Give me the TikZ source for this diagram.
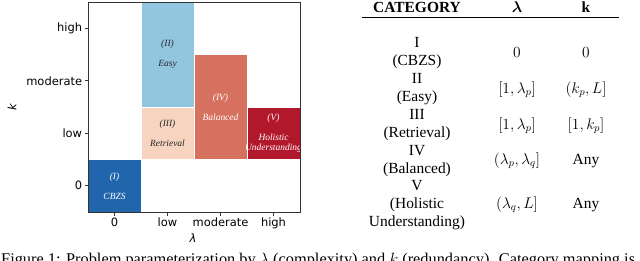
\RequirePackage{fix-cm}
\documentclass[tikz,border=0pt]{standalone}
\usepackage{amsmath, amssymb}
\usepackage{fontspec}
\setmainfont{Liberation Serif}
\newfontfamily\plotfont{DejaVu Sans}
\usepackage{xcolor}
\definecolor{easyblue}{HTML}{92C5DE}
\definecolor{retrpeach}{HTML}{F7D4C0}
\definecolor{balred}{HTML}{D6705F}
\definecolor{holred}{HTML}{B2182B}
\definecolor{cbzsblue}{HTML}{2166AC}
\definecolor{spinegray}{HTML}{333333}

\begin{document}
\begin{tikzpicture}[x=1bp,y=-1bp,
  spine/.style={draw=spinegray,line width=0.8bp},
  ticklabel/.style={font=\plotfont\fontsize{11.5}{13}\selectfont,inner sep=2bp},
  boxlabel/.style={font=\fontsize{9.5}{10}\selectfont\itshape,align=center,inner sep=0pt},
  tabtext/.style={font=\fontsize{15.5}{18}\selectfont,align=center,inner sep=0pt}]
  \useasboundingbox (0,0) rectangle (640,260);
  \clip (0,0) rectangle (640,260);
  % category regions
  \fill[cbzsblue,draw=white,line width=0.5bp](88,159.5) rectangle (141,212);
  \fill[easyblue,draw=white,line width=0.5bp](141,2) rectangle (194,107);
  \fill[retrpeach,draw=white,line width=0.5bp](141,107) rectangle (194,159.5);
  \fill[balred,draw=white,line width=0.5bp](194,54.5) rectangle (247,159.5);
  \fill[holred,draw=white,line width=0.5bp](247,107) rectangle (300,159.5);
  \node[boxlabel,text=white] (lblI) at(114.5,186){(I)\\[10bp]CBZS};
  \node[boxlabel,text=black!85] (lblII) at(167.5,54.5){(II)\\[10bp]Easy};
  \node[boxlabel,text=black!85] (lblIII) at(167.5,133.5){(III)\\[10bp]Retrieval};
  \node[boxlabel,text=white] (lblIV) at(220.5,107){(IV)\\[10bp]Balanced};
  \node[boxlabel,text=white] (lblV) at(273.5,133.5){(V)\\[10bp]Holistic\\Understanding};
  \draw[spine](88,2) rectangle (300,212);
  % ticks
  \draw[spine](114.5,212)--(114.5,215.5) node[below,ticklabel] (xt0){0};
  \draw[spine](167.5,212)--(167.5,215.5) node[below,ticklabel] (xtlow){low};
  \draw[spine](220.5,212)--(220.5,215.5) node[below,ticklabel] (xtmod){moderate};
  \draw[spine](273.5,212)--(273.5,215.5) node[below,ticklabel] (xthigh){high};
  \draw[spine](88,185.75)--(84.5,185.75) node[left,ticklabel] (yt0){0};
  \draw[spine](88,133.25)--(84.5,133.25) node[left,ticklabel] (ytlow){low};
  \draw[spine](88,80.75)--(84.5,80.75) node[left,ticklabel] (ytmod){moderate};
  \draw[spine](88,28.25)--(84.5,28.25) node[left,ticklabel] (ythigh){high};
  \node[ticklabel,rotate=90] (klabel) at(12,107){\itshape k};
  \node[ticklabel] (lamlabel) at(193,238){\itshape λ};
  % table
  \node[tabtext] (hcat) at(417,7){\textbf{CATEGORY}};
  \node[tabtext] (hlam) at(517,7){$\boldsymbol{\lambda}$};
  \node[tabtext] (hk) at(586,7){\textbf{k}};
  \draw[black,line width=0.8bp](362,17.5)--(619,17.5);
  \node[tabtext] (catI) at(417,53){I\\(CBZS)};
  \node[tabtext] (lamI) at(517,53){$0$};
  \node[tabtext] (kI) at(586,53){$0$};
  \node[tabtext] (catII) at(417,89){II\\(Easy)};
  \node[tabtext] (lamII) at(517,89.5){$[1,\lambda_p]$};
  \node[tabtext] (kII) at(586,89.5){$(k_p,L]$};
  \node[tabtext] (catIII) at(417,125){III\\(Retrieval)};
  \node[tabtext] (lamIII) at(517,125.5){$[1,\lambda_p]$};
  \node[tabtext] (kIII) at(586,125.5){$[1,k_p]$};
  \node[tabtext] (catIV) at(417,161){IV\\(Balanced)};
  \node[tabtext] (lamIV) at(517,161){$(\lambda_p,\lambda_q]$};
  \node[tabtext] (kIV) at(586,161){Any};
  \node[tabtext] (catV) at(417,205){V\\(Holistic\\Understanding)};
  \node[tabtext] (lamV) at(517,205){$(\lambda_q,L]$};
  \node[tabtext] (kV) at(586,205){Any};
  % caption, cut by the page edge
  \node[anchor=north west,inner sep=0pt,font=\fontsize{16.4}{18}\selectfont] (caption) at(1,252.5){Figure 1: Problem parameterization by $\lambda$ (complexity) and $k$ (redundancy). Category mapping is};
\end{tikzpicture}
\end{document}
